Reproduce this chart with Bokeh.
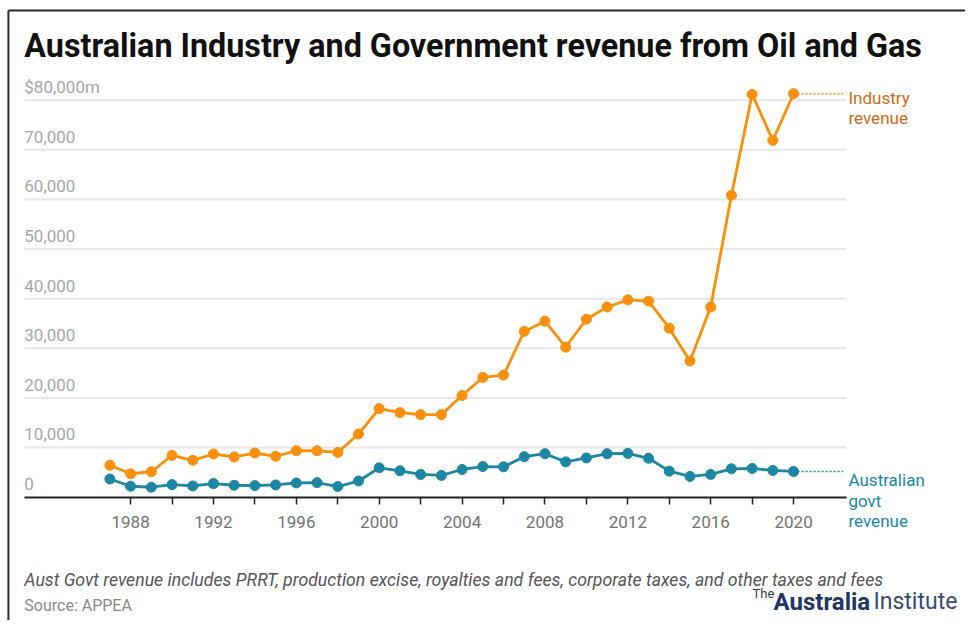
from bokeh.plotting import figure
from bokeh.models import Range1d, FixedTicker, Label, LabelSet, ColumnDataSource
from bokeh.core.properties import value
from bokeh.embed import file_html
from bokeh.resources import INLINE

# ---------------- data ----------------
years = list(range(1987, 2021))
industry = [6420, 4710, 5110, 8410, 7420, 8690, 8090, 8890, 8220, 9340,
            9340, 9010, 12720, 17830, 17030, 16630, 16630, 20480, 24120, 24590,
            33400, 35450, 30220, 35850, 38310, 39760, 39500, 34060, 27440, 38310,
            60830, 81170, 71910, 81310]
govt = [3640, 2190, 1990, 2520, 2250, 2720, 2390, 2320, 2450, 2850,
        2920, 2120, 3250, 5900, 5300, 4570, 4370, 5570, 6160, 6100,
        8150, 8750, 7100, 7890, 8750, 8810, 7820, 5230, 4170, 4570,
        5700, 5770, 5370, 5170]

xtick_years = [1988, 1990, 1992, 1994, 1996, 1998, 2000, 2002, 2004,
               2006, 2008, 2010, 2012, 2014, 2016, 2018, 2020]
xtick_labels = ["1988", "", "1992", "", "1996", "", "2000", "", "2004",
                "", "2008", "", "2012", "", "2016", "", "2020"]
ytick_values = [0, 10000, 20000, 30000, 40000, 50000, 60000, 70000, 80000]
ytick_labels = ["0", "10,000", "20,000", "30,000", "40,000", "50,000",
                "60,000", "70,000", "$80,000m"]

series_labels = {"industry": ["Industry", "revenue"],
                 "govt": ["Australian", "govt", "revenue"]}

# ---------------- styling / geometry ----------------
ORANGE = "#f8900c"
ORANGE_TXT = "#c96a1b"
TEAL = "#1c86a3"

W, H = 965, 620
X_START, X_END = 1981.72, 2028.298      # frame spans the full canvas
Y_START, Y_END = -24873, 100101
GRID_X0, GRID_X1 = 1982.87, 2022.55     # extent of plot area (gridlines / axis)
LABEL_X = 2022.65
LEADER_X = 2022.4

PPX = W / (X_END - X_START)
PPY = H / (Y_END - Y_START)


def cx(px):
    return X_START + px / PPX


def cy(py):
    return Y_END - py / PPY


p = figure(width=W, height=H, title=None,
           x_range=Range1d(X_START, X_END), y_range=Range1d(Y_START, Y_END),
           output_backend="svg", toolbar_location=None,
           y_axis_location=None,
           min_border_left=0, min_border_right=0,
           min_border_top=0, min_border_bottom=0)
p.outline_line_color = None
p.background_fill_color = "white"
p.border_fill_color = "white"
p.xgrid.visible = False
p.ygrid.visible = False

# frame border lines (decoration of the card)
p.segment(x0=[cx(7.9), cx(7.9)], y0=[cy(9.9), cy(9.9)],
          x1=[cx(7.9), cx(W)], y1=[cy(H), cy(9.9)],
          color="#2a2a2a", line_width=2)

# horizontal gridlines
p.segment(x0=[GRID_X0] * 8, y0=ytick_values[1:], x1=[GRID_X1] * 8, y1=ytick_values[1:],
          color="#e6e6e6", line_width=2)

ax = p.xaxis[0]
ax.fixed_location = 0
ax.bounds = (GRID_X0, GRID_X1)
ax.ticker = FixedTicker(ticks=xtick_years)
ax.major_label_overrides = {y: l for y, l in zip(xtick_years, xtick_labels)}
ax.minor_tick_line_color = None
ax.axis_line_color = "#222222"
ax.axis_line_width = 2
ax.major_tick_line_color = "#222222"
ax.major_tick_line_width = 1.5
ax.major_tick_out = 7
ax.major_tick_in = 0
ax.major_label_standoff = 12
ax.major_label_text_font = "Roboto"
ax.major_label_text_font_size = "17px"
ax.major_label_text_color = "#727272"

# y tick labels sitting above the gridlines
ysrc = ColumnDataSource(dict(x=[GRID_X0] * len(ytick_values), y=ytick_values, t=ytick_labels))
p.add_layout(LabelSet(x="x", y="y", text="t", source=ysrc, y_offset=7,
                      text_font=value("Roboto"), text_font_size="17px",
                      text_color="#a6a6a6", text_baseline="alphabetic"))

# series
p.line(years, govt, color=TEAL, line_width=2.8)
p.scatter(years, govt, size=10, color=TEAL)
p.line(years, industry, color=ORANGE, line_width=2.8)
p.scatter(years, industry, size=10, color=ORANGE)

# leader lines
p.segment(x0=[years[-1]], y0=[industry[-1]], x1=[LEADER_X], y1=[industry[-1]],
          color=ORANGE, line_width=1.5, line_dash="2 2")
p.segment(x0=[years[-1]], y0=[govt[-1]], x1=[LEADER_X], y1=[govt[-1]],
          color=TEAL, line_width=1.5, line_dash="2 2")

for txt, off in zip(series_labels["industry"], [-4, -24]):
    p.add_layout(Label(x=LABEL_X, y=industry[-1], y_offset=off, text=txt,
                       text_font="Roboto", text_font_size="17px",
                       text_color=ORANGE_TXT, text_baseline="alphabetic"))
for txt, off in zip(series_labels["govt"], [-9, -29.5, -50]):
    p.add_layout(Label(x=LABEL_X, y=govt[-1], y_offset=off, text=txt,
                       text_font="Roboto", text_font_size="17px",
                       text_color=TEAL, text_baseline="alphabetic"))


def slabel(px, py, text, **kw):
    # px, py: canvas pixels from top-left; frame == canvas, screen y runs upward
    p.add_layout(Label(x=px, y=H - py, x_units="screen", y_units="screen",
                       text=text, text_baseline="alphabetic", **kw))


slabel(23.8, 45.5, "Australian Industry and Government revenue from Oil and Gas",
       text_font="Roboto", text_font_style="bold", text_font_size="32.3px", text_color="#111111")
slabel(23.8, 579.5, "Aust Govt revenue includes PRRT, production excise, royalties and fees, corporate taxes, and other taxes and fees",
       text_font="Roboto", text_font_style="italic", text_font_size="17.7px", text_color="#555555")
slabel(23.8, 604.5, "Source: APPEA", text_font="Roboto", text_font_size="16px", text_color="#8a8a8a")
slabel(752, 593, "The", text_font="Roboto", text_font_size="13px", text_color="#2f3b55")
slabel(773, 601, "Australia", text_font="Roboto", text_font_style="bold",
       text_font_size="24px", text_color="#1f3566")
slabel(873, 601, "Institute", text_font="Roboto", text_font_size="23px", text_color="#3a4a6e")

open("out.html", "w").write(file_html(p, INLINE))
